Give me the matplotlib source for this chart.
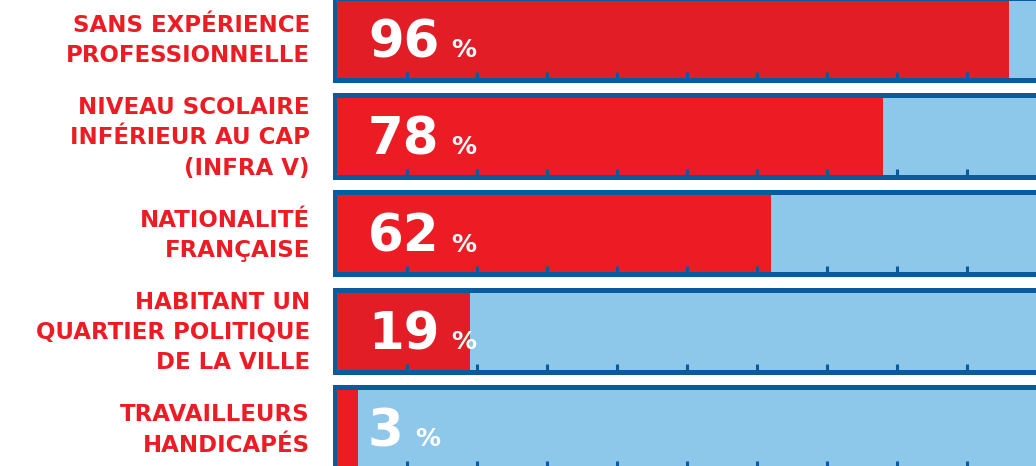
import numpy as np
import matplotlib
matplotlib.use('Agg')
import matplotlib.pyplot as plt
import matplotlib.transforms as mtransforms

# profile of the audience
labels = ['SANS EXPÉRIENCE\nPROFESSIONNELLE',
          'NIVEAU SCOLAIRE\nINFÉRIEUR AU CAP\n(INFRA V)',
          'NATIONALITÉ\nFRANÇAISE',
          'HABITANT UN\nQUARTIER POLITIQUE\nDE LA VILLE',
          'TRAVAILLEURS\nHANDICAPÉS']
values = [96, 78, 62, 19, 3]
ticks = [10, 20, 30, 40, 50, 60, 70, 80, 90]

RED = '#ED1C24'
RED_DARK = '#E21D25'
bar_reds = [RED_DARK, RED, RED, RED_DARK, RED]
LIGHT = '#8DC7EA'
DARK = '#0A5A9E'
FONT = ['DejaVu Sans']

W, H = 1036, 466
fig = plt.figure(figsize=(W / 100, H / 100), dpi=100)

# axes in pixel geometry: 0..100 % maps to x 337..1037, rows every ~97.3 px
pitch = 97.3
c0 = 39.2
top = c0 - pitch / 2
bot = c0 + 4 * pitch + pitch / 2
ax = fig.add_axes([337 / W, 1 - bot / H, 700 / W, (bot - top) / H])
ax.set_xlim(0, 100)
ax.set_ylim(4.5, -0.5)
ax.axis('off')

y = np.arange(len(values))
outer_h = 87 / pitch
inner_h = 77 / pitch
px = 100 / 700  # one pixel in x data units

ax.barh(y, 100 + 4 * px + 10, left=-4 * px, height=outer_h, color=DARK,
        edgecolor='none', clip_on=False)
ax.barh(y, 110, left=0, height=inner_h, color=LIGHT, edgecolor='none')
ax.barh(y, values, left=0, height=inner_h, color=bar_reds, edgecolor='none')

# small ticks at the bottom of each row
for yi in y:
    ax.vlines(ticks, yi + inner_h / 2 - 6 / pitch, yi + inner_h / 2,
              color=DARK, linewidth=2.2)

lab_tr = mtransforms.blended_transform_factory(fig.transFigure, ax.transData)
for yi, lab in zip(y, labels):
    ax.text(310 / W, yi + 1.5 / pitch, lab, transform=lab_tr, ha='right', va='center',
            color=RED, fontsize=16.5, fontweight='bold', family=FONT, linespacing=1.4)

nums = []
for yi, v in zip(y, values):
    t = ax.text(31 * px, yi + 18 / pitch, str(v), ha='left', va='baseline', color='white',
                fontsize=37, fontweight='bold', family=FONT)
    nums.append(t)

fig.canvas.draw()
r = fig.canvas.get_renderer()
inv = ax.transData.inverted()
for t, yi in zip(nums, y):
    bb = t.get_window_extent(r)
    xp = inv.transform((bb.x1 + 12, 0))[0]
    ax.text(xp, yi + 18 / pitch, '%', ha='left', va='baseline', color='white',
            fontsize=18, fontweight='bold', family=FONT)

plt.savefig('out.png', dpi=100)
